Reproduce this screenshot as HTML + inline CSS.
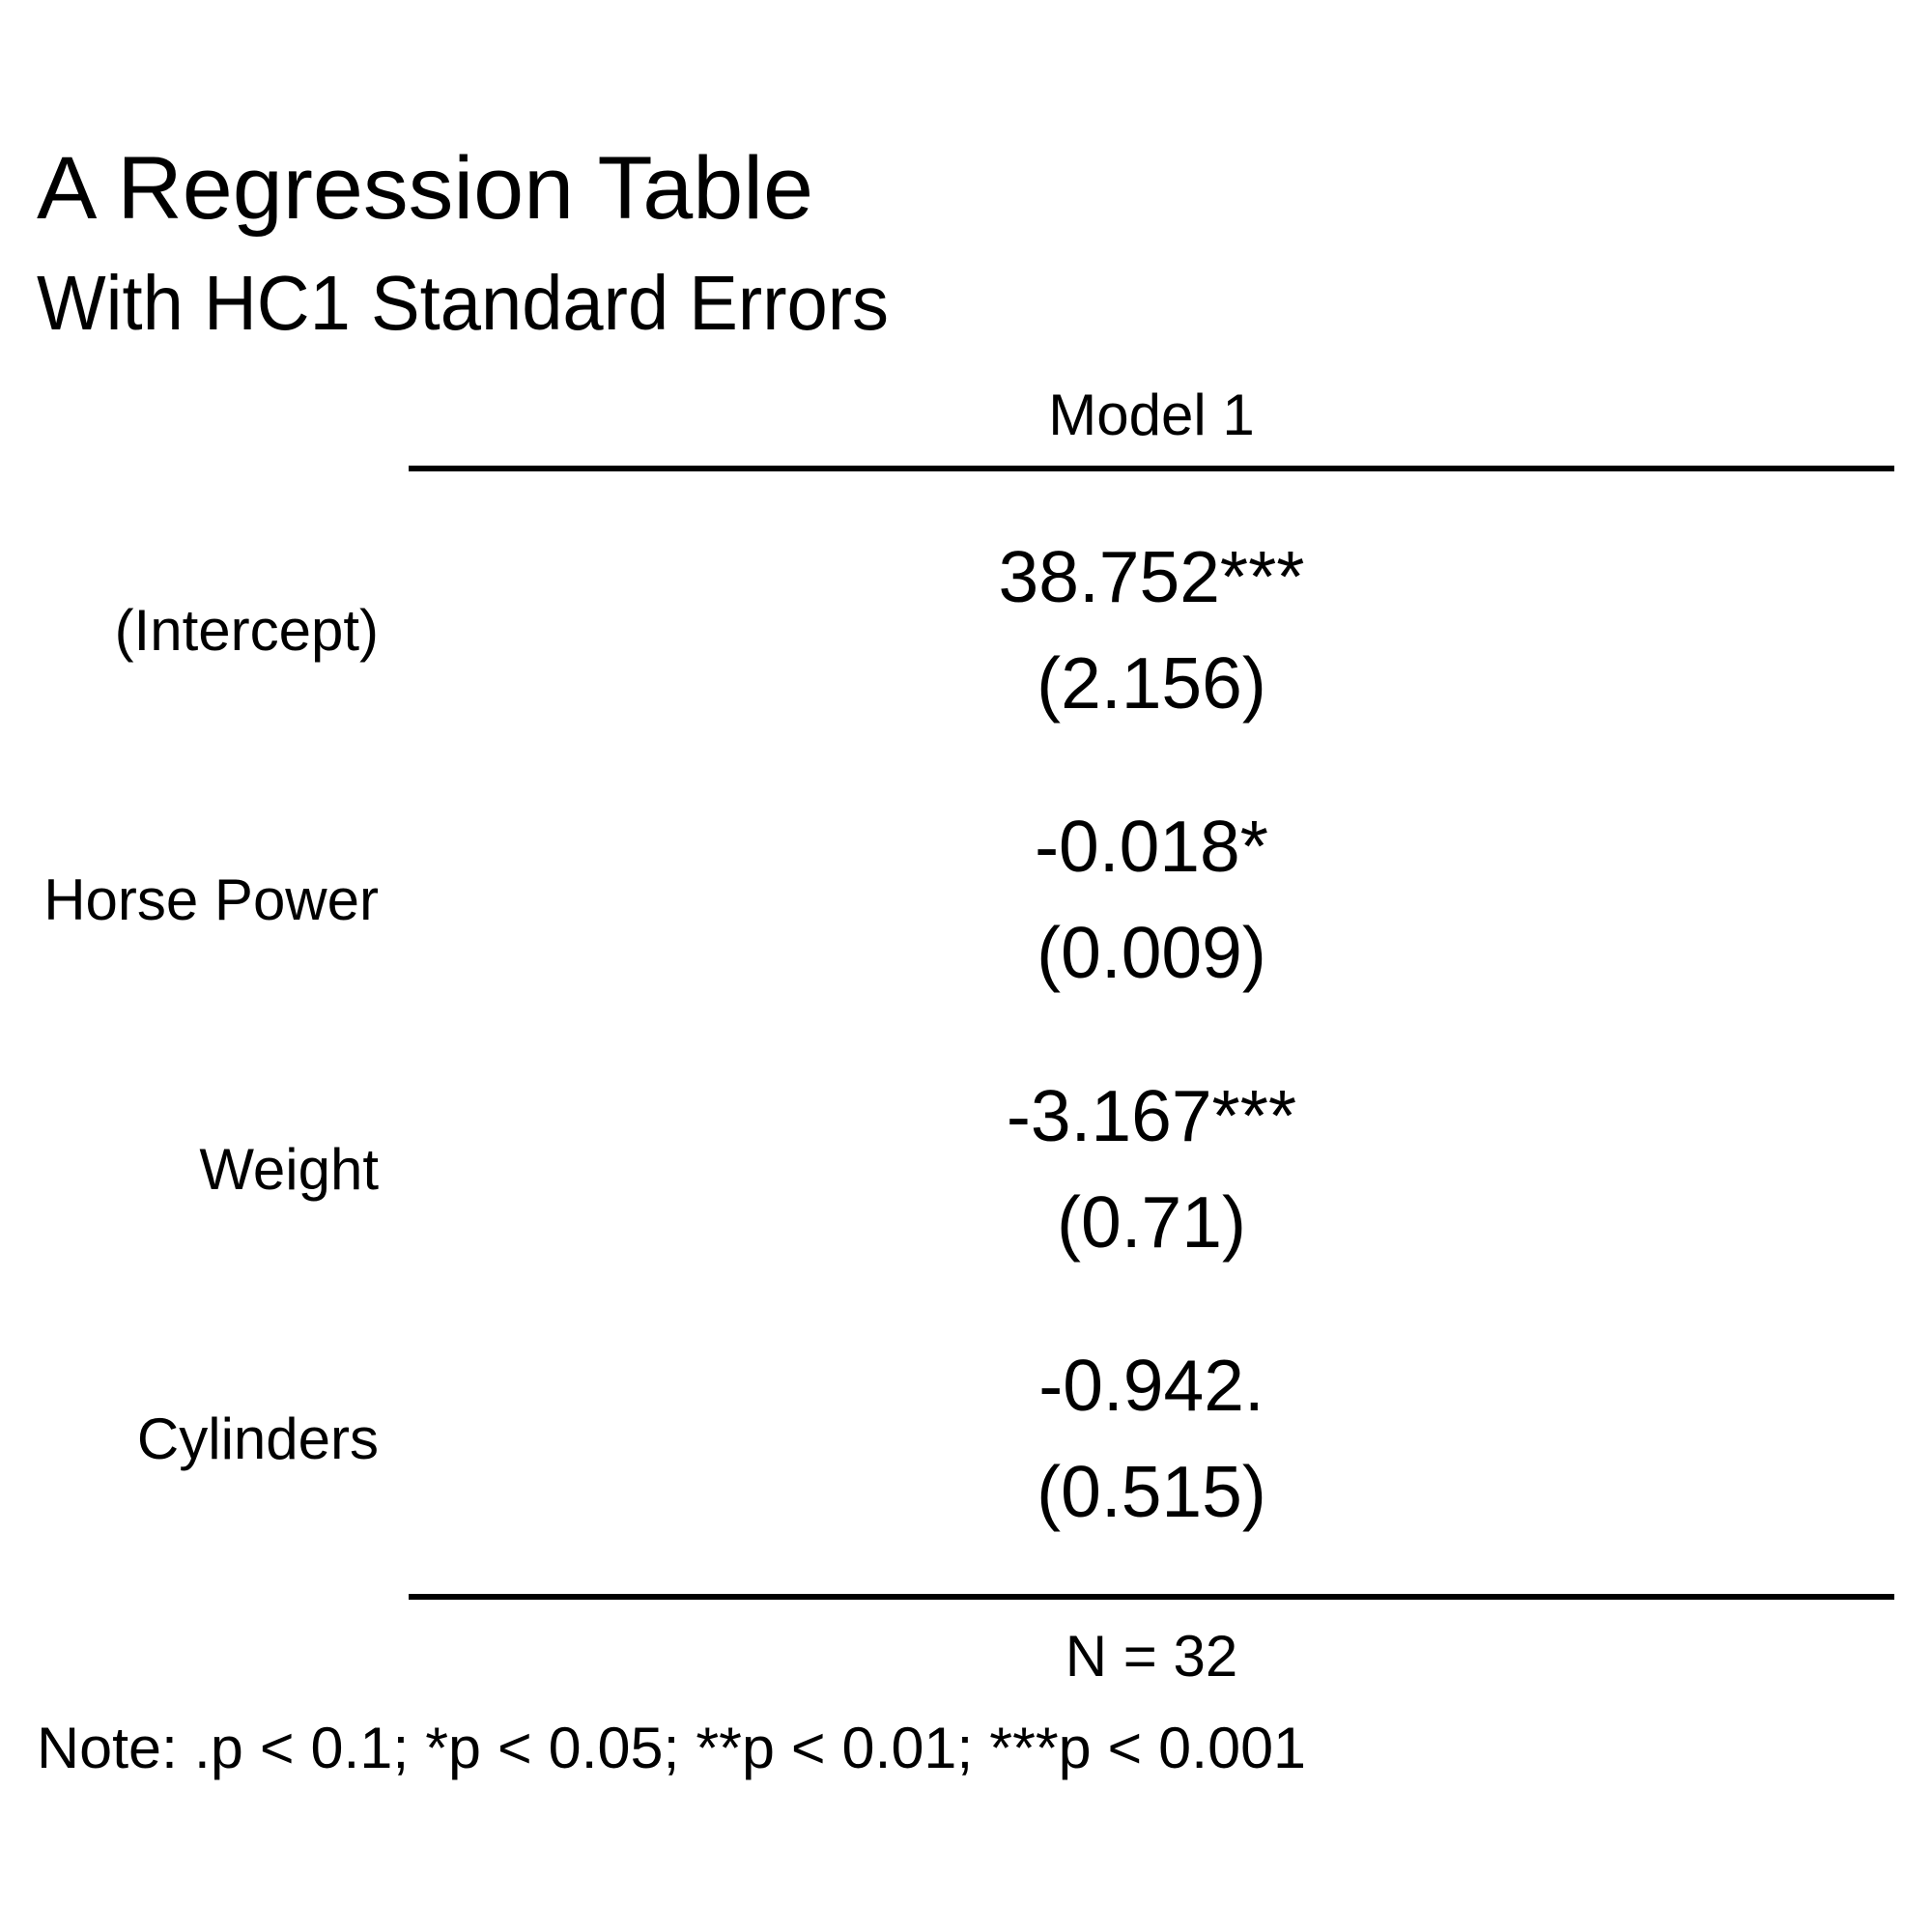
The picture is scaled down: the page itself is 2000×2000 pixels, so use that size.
<!DOCTYPE html>
<html>
<head>
<meta charset="utf-8">
<style>
  html,body{margin:0;padding:0;background:#fff;}
  svg{display:block;}
  text{font-family:"Liberation Sans",Arial,sans-serif;fill:#000;}
</style>
</head>
<body>
<svg id="tbl" width="2000" height="2000" viewBox="0 0 2000 2000">
  <rect width="2000" height="2000" fill="#fff"/>
  <text x="38" y="226" font-size="92" textLength="804" lengthAdjust="spacingAndGlyphs">A Regression Table</text>
  <text x="38" y="341" font-size="80" textLength="882" lengthAdjust="spacingAndGlyphs">With HC1 Standard Errors</text>
  <text x="1192" y="450" font-size="60" text-anchor="middle">Model 1</text>
  <rect x="423" y="482" width="1538" height="6" fill="#000"/>
  <g id="rows"></g>
  <rect x="423" y="1650" width="1538" height="6" fill="#000"/>
  <text x="1192" y="1735" font-size="60" text-anchor="middle">N = 32</text>
  <text x="38" y="1830" font-size="60" textLength="1314" lengthAdjust="spacingAndGlyphs">Note: .p &lt; 0.1; *p &lt; 0.05; **p &lt; 0.01; ***p &lt; 0.001</text>
</svg>
<script>
const terms = ["(Intercept)", "Horse Power", "Weight", "Cylinders"];
const estimates = ["38.752***", "-0.018*", "-3.167***", "-0.942."];
const stdErrors = ["(2.156)", "(0.009)", "(0.71)", "(0.515)"];

const NS = "http://www.w3.org/2000/svg";
const g = document.getElementById("rows");
const rowStep = 279;
function mk(txt, x, y, size, anchor) {
  const t = document.createElementNS(NS, "text");
  t.setAttribute("x", x);
  t.setAttribute("y", y);
  t.setAttribute("font-size", size);
  t.setAttribute("text-anchor", anchor);
  t.textContent = txt;
  g.appendChild(t);
  return t;
}
terms.forEach((term, i) => {
  const off = i * rowStep;
  const lab = mk(term, 392, 673 + off, 60, "end");
  
  
  const est = mk(estimates[i], 1192, 623 + off, 75, "middle");
  
  
  const se = mk(stdErrors[i], 1192, 733 + off, 75, "middle");
  
  
});
</script>
</body>
</html>
